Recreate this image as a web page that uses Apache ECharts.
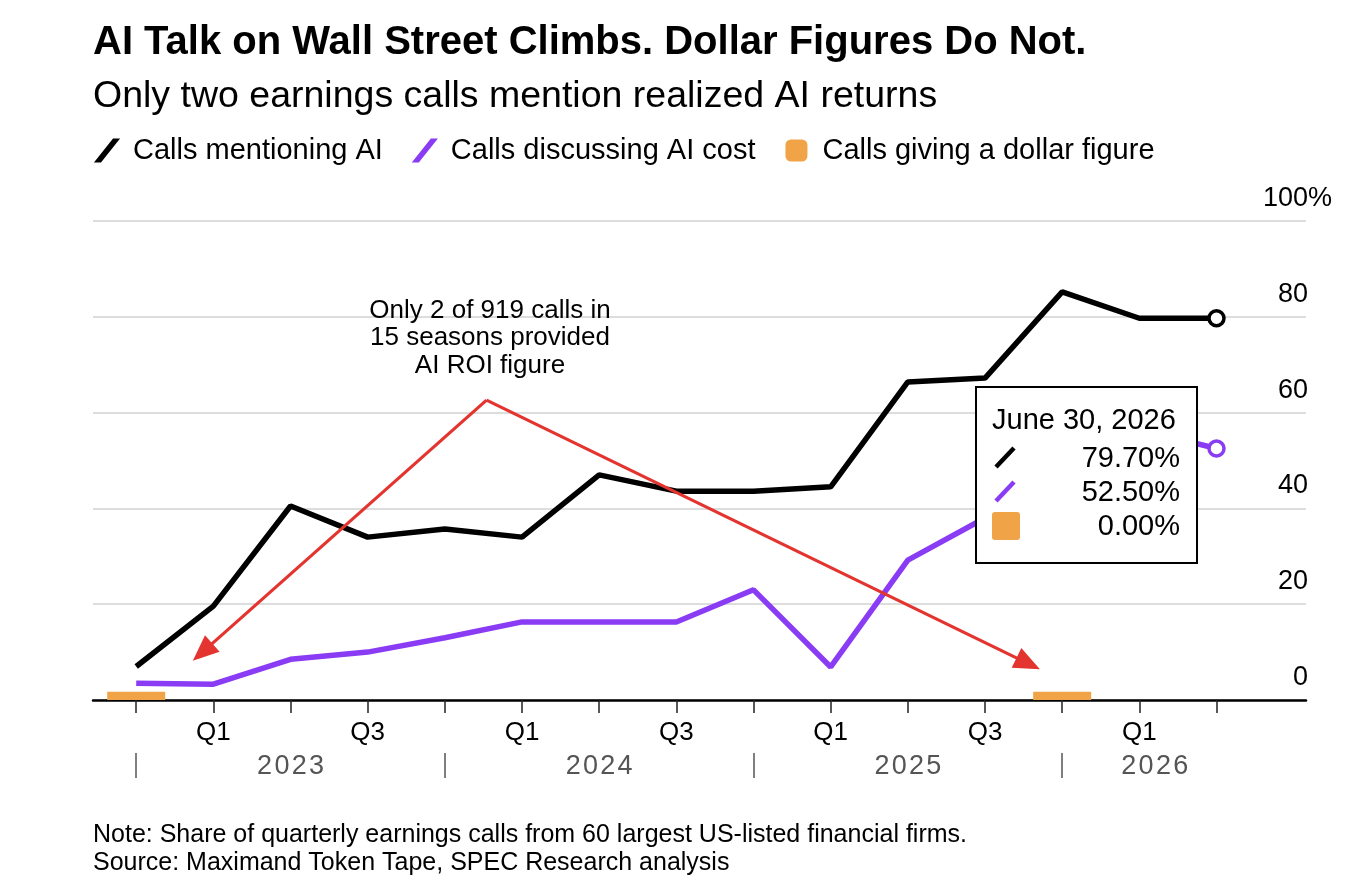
<!DOCTYPE html>
<html>
<head>
<meta charset="utf-8">
<script src="https://cdn.jsdelivr.net/npm/echarts@6/dist/echarts.min.js"></script>
<style>
  html, body { margin: 0; padding: 0; background: #fff; }
  #main { width: 1372px; height: 890px; }
</style>
</head>
<body>
<div id="main"></div>
<script>
// quarter-end dates, Dec 2022 .. Jun 2026
const quarterEnds = [
  "Dec 31, 2022", "March 31, 2023", "June 30, 2023", "Sept 30, 2023", "Dec 31, 2023",
  "March 31, 2024", "June 30, 2024", "Sept 30, 2024", "Dec 31, 2024",
  "March 31, 2025", "June 30, 2025", "Sept 30, 2025", "Dec 31, 2025",
  "March 31, 2026", "June 30, 2026"
];
const mentioningAI = [7, 19.6, 40.5, 34, 35.7, 34, 47, 43.6, 43.6, 44.5, 66.4, 67.2, 85.2, 79.7, 79.7];
const discussingCost = [3.5, 3.3, 8.5, 10, 13, 16.3, 16.3, 16.3, 23, 6.9, 29.2, 38, 47, 56.5, 52.5];
const dollarFigure = [1.7, 0, 0, 0, 0, 0, 0, 0, 0, 0, 0, 0, 1.7, 0, 0];

const quarterLabelAt = [1, 3, 5, 7, 9, 11, 13];
const years = ["2023", "2024", "2025", "2026"];
const yearCenters = [2, 6, 10, 13.2];
const yearBreaks = [0, 4, 8, 12];

const FONT = "'Liberation Sans', Arial, sans-serif";
const BLACK = "#000000";
const PURPLE = "#8a3cf5";
const ORANGE = "#f0a447";
const RED = "#e3342f";

const idx = quarterEnds.map((d, i) => i);
const last = quarterEnds.length - 1;

const chart = echarts.init(document.getElementById("main"));

const slash = "path://M0,22 L4.5,22 L22,0 L17.5,0 Z";

const option = {
  animation: false,
  textStyle: { fontFamily: FONT },
  title: {
    left: 88,
    top: 18,
    text: "AI Talk on Wall Street Climbs. Dollar Figures Do Not.",
    subtext: "Only two earnings calls mention realized AI returns",
    itemGap: 15,
    textStyle: { fontFamily: FONT, fontSize: 40, fontWeight: "bold", color: "#000" },
    subtextStyle: { fontFamily: FONT, fontSize: 37.5, color: "#000" }
  },
  legend: {
    left: 90,
    top: 131,
    itemWidth: 22,
    itemHeight: 22,
    itemGap: 30,
    textStyle: { fontFamily: FONT, fontSize: 29, color: "#000", padding: [0, 0, 0, 10] },
    data: [
      { name: "Calls mentioning AI", icon: slash, itemStyle: { color: BLACK } },
      { name: "Calls discussing AI cost", icon: slash, itemStyle: { color: PURPLE } },
      { name: "Calls giving a dollar figure", icon: "roundRect", itemStyle: { color: ORANGE } }
    ]
  },
  grid: { left: 93, right: 66, top: 221, bottom: 190 },
  xAxis: [
    {
      type: "value",
      min: -0.56,
      max: 15.16,
      splitLine: { show: false },
      axisLine: { show: true, lineStyle: { color: "#000", width: 2.5 } },
      axisTick: {
        show: true,
        length: 13,
        customValues: idx,
        lineStyle: { color: "#222", width: 1.5 }
      },
      axisLabel: {
        customValues: quarterLabelAt,
        margin: 20,
        fontSize: 26,
        color: "#000",
        fontFamily: FONT,
        formatter: v => (Math.round(v) % 4 === 1 ? "Q1" : "Q3")
      }
    },
    {
      type: "value",
      position: "bottom",
      offset: 53,
      min: -0.56,
      max: 15.16,
      splitLine: { show: false },
      axisLine: { show: false },
      axisTick: {
        show: true,
        length: 25,
        customValues: yearBreaks,
        lineStyle: { color: "#555", width: 1.5 }
      },
      axisLabel: {
        customValues: yearCenters,
        margin: 0,
        fontSize: 27,
        color: "#555",
        fontFamily: FONT,
        formatter: v => years[yearCenters.indexOf(v)].split("").join("\u200A")
      }
    }
  ],
  yAxis: {
    type: "value",
    position: "right",
    min: 0,
    max: 100,
    interval: 20,
    axisLine: { show: false },
    axisTick: { show: false },
    splitLine: { lineStyle: { color: "#d2d2d2", width: 1.5 } },
    axisLabel: {
      margin: 26,
      align: "right",
      verticalAlign: "bottom",
      padding: [0, 0, 9, 0],
      fontSize: 27,
      color: "#000",
      fontFamily: FONT,
      formatter: v => (v === 100 ? "100{p|%}" : v + "{p|}"),
      rich: { p: { width: 24, align: "left", fontSize: 27, fontFamily: FONT, color: "#000" } }
    }
  },
  series: [
    {
      name: "Calls giving a dollar figure",
      type: "bar",
      barWidth: 58,
      itemStyle: { color: ORANGE },
      data: idx.map(i => [i, dollarFigure[i]]),
      z: 1
    },
    {
      name: "Calls discussing AI cost",
      type: "line",
      data: idx.map(i => [i, discussingCost[i]]),
      symbol: (v, p) => (p.dataIndex === last ? "circle" : "none"),
      symbolSize: 15,
      lineStyle: { color: PURPLE, width: 5.5 },
      itemStyle: { color: "#fff", borderColor: PURPLE, borderWidth: 3.5 },
      z: 3
    },
    {
      name: "Calls mentioning AI",
      type: "line",
      data: idx.map(i => [i, mentioningAI[i]]),
      symbol: (v, p) => (p.dataIndex === last ? "circle" : "none"),
      symbolSize: 15,
      lineStyle: { color: BLACK, width: 5.5 },
      itemStyle: { color: "#fff", borderColor: BLACK, borderWidth: 3.5 },
      z: 4
    },
    {
      name: "annotation",
      type: "line",
      data: [],
      z: 5,
      markLine: {
        silent: true,
        symbol: ["none", "triangle"],
        symbolSize: [22, 26],
        label: { show: false },
        lineStyle: { color: RED, width: 3.2, type: "solid" },
        data: [
          [{ coord: [4.54, 62.6] }, { coord: [0.86, 10] }],
          [{ coord: [4.54, 62.6] }, { coord: [11.56, 7.6] }]
        ]
      }
    }
  ],
  graphic: [
    {
      type: "text",
      x: 490, y: 297,
      z: 10,
      style: {
        text: "Only 2 of 919 calls in\n15 seasons provided\nAI ROI figure",
        font: "26px " + FONT,
        fill: "#000",
        align: "center",
        textAlign: "center",
        lineHeight: 27.5
      }
    },
    {
      type: "group",
      z: 100,
      children: [
        {
          type: "rect",
          z: 100,
          shape: { x: 976, y: 387, width: 221, height: 176 },
          style: { fill: "#fff", stroke: "#000", lineWidth: 2 }
        },
        {
          type: "text",
          z: 101,
          x: 992, y: 406,
          style: { text: quarterEnds[last], font: "29px " + FONT, fill: "#000" }
        },
        {
          type: "line",
          z: 101,
          shape: { x1: 996, y1: 467, x2: 1014, y2: 448 },
          style: { stroke: BLACK, lineWidth: 4.5 }
        },
        {
          type: "text",
          z: 101,
          x: 1180, y: 444,
          style: { text: mentioningAI[last].toFixed(2) + "%", font: "29px " + FONT, fill: "#000", align: "right", textAlign: "right" }
        },
        {
          type: "line",
          z: 101,
          shape: { x1: 996, y1: 501, x2: 1014, y2: 482 },
          style: { stroke: PURPLE, lineWidth: 4.5 }
        },
        {
          type: "text",
          z: 101,
          x: 1180, y: 478,
          style: { text: discussingCost[last].toFixed(2) + "%", font: "29px " + FONT, fill: "#000", align: "right", textAlign: "right" }
        },
        {
          type: "rect",
          z: 101,
          shape: { x: 992, y: 512, width: 28, height: 28, r: 3 },
          style: { fill: ORANGE }
        },
        {
          type: "text",
          z: 101,
          x: 1180, y: 512,
          style: { text: dollarFigure[last].toFixed(2) + "%", font: "29px " + FONT, fill: "#000", align: "right", textAlign: "right" }
        }
      ]
    },
    {
      type: "text",
      x: 93, y: 821,
      style: {
        text: "Note: Share of quarterly earnings calls from 60 largest US-listed financial firms.\nSource: Maximand Token Tape, SPEC Research analysis",
        font: "25px " + FONT,
        fill: "#000",
        lineHeight: 28
      }
    }
  ]
};

chart.setOption(option);
window.addEventListener("resize", () => chart.resize());
</script>
</body>
</html>
